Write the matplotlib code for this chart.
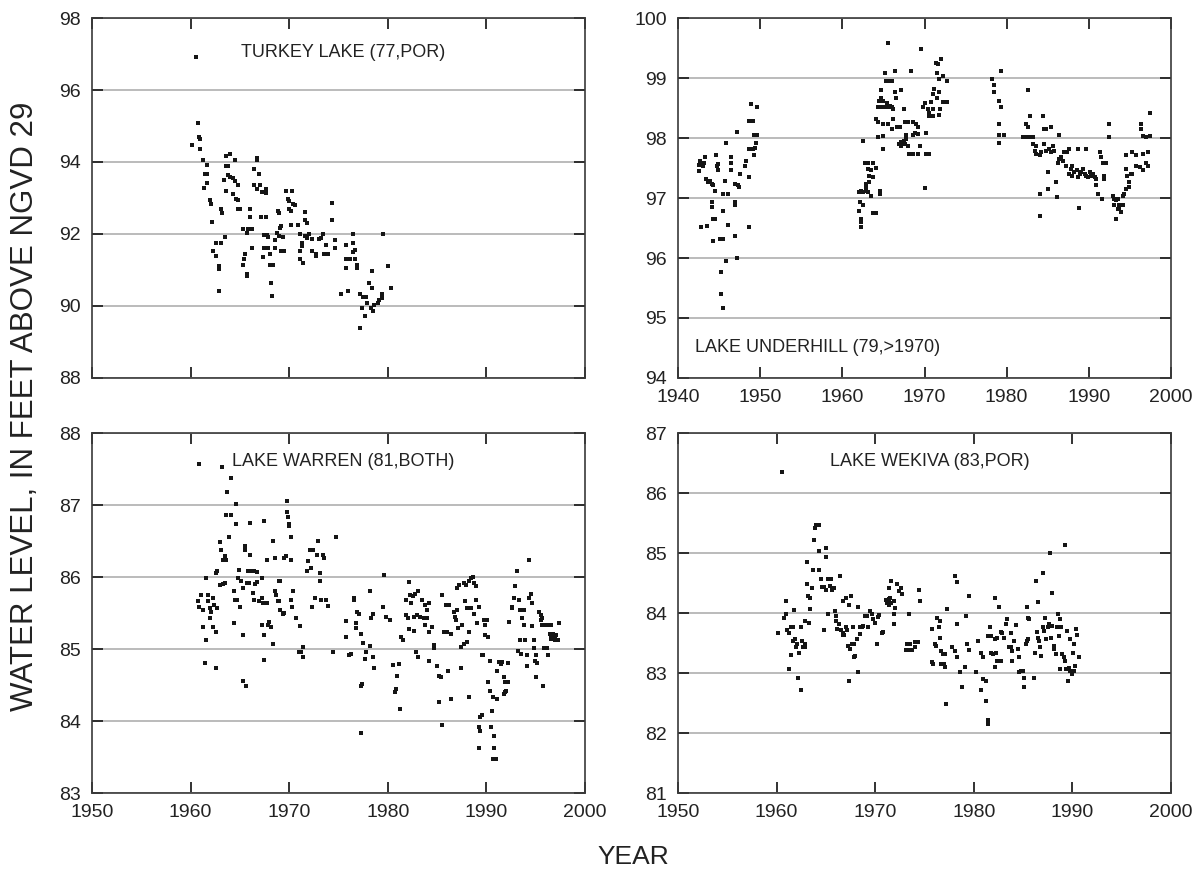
# lake levels, four panels of scattered readings
import matplotlib.pyplot as plt
import numpy as np

plt.rcParams['font.family'] = ['Liberation Sans', 'DejaVu Sans']

# Turkey Lake (77, POR)
###############################################
turkey_year = [1960.5, 1960.8, 1960.9, 1961.0, 1960.1, 1961.0, 1961.3, 1961.7, 1961.5, 1961.7,
               1961.7, 1961.4, 1962.0, 1962.1, 1962.2, 1962.3, 1962.6, 1962.6, 1963.1, 1962.9,
               1962.9, 1962.9, 1963.5, 1963.2, 1963.1, 1963.6, 1964.0, 1964.5, 1963.6, 1963.8,
               1963.8, 1964.0, 1964.3, 1964.5, 1963.4, 1963.6, 1964.3, 1964.6, 1964.8, 1964.8,
               1965.0, 1964.8, 1965.3, 1965.7, 1965.8, 1966.2, 1966.0, 1966.0, 1965.5, 1965.4,
               1965.3, 1965.7, 1965.7, 1966.2, 1966.4, 1966.7, 1966.7, 1966.9, 1966.4, 1966.7,
               1967.0, 1967.2, 1967.6, 1967.6, 1967.1, 1967.6, 1967.4, 1967.7, 1967.9, 1967.4,
               1967.8, 1967.3, 1968.1, 1968.1, 1968.4, 1968.2, 1968.3, 1968.6, 1968.6, 1968.8,
               1969.1, 1969.2, 1968.9, 1969.0, 1969.0, 1969.4, 1969.2, 1969.5, 1969.7, 1970.3,
               1969.9, 1970.0, 1970.4, 1970.6, 1970.0, 1970.2, 1970.2, 1970.9, 1971.1, 1971.6,
               1971.8, 1972.0, 1972.3, 1971.6, 1971.6, 1971.8, 1971.3, 1971.3, 1971.1, 1971.1,
               1971.4, 1972.3, 1972.7, 1972.7, 1973.0, 1973.2, 1973.4, 1973.5, 1973.9, 1973.7,
               1974.3, 1974.3, 1974.6, 1974.6, 1975.3, 1976.0, 1975.8, 1975.8, 1975.8, 1976.2,
               1976.5, 1976.5, 1976.7, 1976.7, 1976.9, 1976.9, 1976.5, 1977.2, 1977.5, 1977.8,
               1977.9, 1977.4, 1977.7, 1977.2, 1978.1, 1978.4, 1978.4, 1978.3, 1978.5, 1978.6,
               1979.0, 1979.1, 1979.4, 1979.4, 1979.5, 1980.0, 1980.3]
turkey_level = [96.92, 95.09, 94.70, 94.65, 94.46, 94.37, 94.06, 93.91, 93.68, 93.68,
                93.43, 93.29, 92.94, 92.83, 92.33, 91.53, 91.39, 91.76, 91.76, 91.11,
                91.04, 90.42, 91.91, 92.57, 92.70, 94.17, 94.23, 94.06, 93.89, 93.89,
                93.64, 93.59, 93.56, 93.47, 93.50, 93.19, 93.10, 92.96, 92.94, 92.70,
                92.69, 93.36, 92.15, 92.02, 92.13, 92.13, 92.70, 92.48, 91.45, 91.31,
                91.13, 90.88, 90.83, 91.62, 93.81, 94.10, 94.06, 93.68, 93.35, 93.24,
                93.35, 93.17, 93.24, 93.13, 92.48, 92.48, 91.97, 91.96, 91.93, 91.61,
                91.60, 91.37, 91.45, 91.13, 91.13, 90.65, 90.28, 91.82, 91.62, 92.04,
                92.17, 92.22, 92.63, 92.57, 91.94, 91.92, 91.53, 91.53, 93.19, 93.19,
                92.96, 92.92, 92.83, 92.80, 92.70, 92.63, 92.24, 92.24, 91.99, 91.94,
                91.89, 91.99, 91.85, 92.62, 92.39, 92.31, 91.74, 91.67, 91.53, 91.31,
                91.20, 91.53, 91.44, 91.39, 91.85, 91.89, 91.99, 91.45, 91.45, 91.69,
                92.87, 92.39, 91.82, 91.62, 90.34, 90.42, 91.69, 91.31, 91.06, 91.30,
                91.99, 91.76, 91.56, 91.30, 91.13, 91.06, 91.50, 90.34, 90.26, 90.26,
                90.09, 89.94, 89.71, 89.38, 90.65, 90.97, 90.49, 89.94, 89.86, 90.02,
                90.09, 90.16, 90.32, 90.23, 91.99, 91.11, 90.49]

# Lake Underhill (79, >1970)
###############################################
underhill_year = [1942.6, 1942.7, 1942.8, 1942.6, 1942.9, 1943.2, 1943.1, 1943.3, 1943.4, 1943.5,
                  1943.7, 1943.9, 1944.1, 1944.3, 1944.5, 1944.1, 1944.1, 1944.3, 1944.5, 1944.3,
                  1944.6, 1944.9, 1944.7, 1944.9, 1945.1, 1945.5, 1945.2, 1945.2, 1945.5, 1945.5,
                  1945.5, 1945.7, 1945.8, 1946.1, 1946.1, 1945.9, 1946.4, 1946.5, 1946.4, 1946.9,
                  1947.3, 1947.4, 1946.9, 1946.9, 1946.9, 1947.2, 1947.2, 1947.5, 1948.1, 1948.3,
                  1948.7, 1948.7, 1948.7, 1949.1, 1948.7, 1949.1, 1949.2, 1948.9, 1949.6, 1949.3,
                  1949.6, 1949.5, 1949.4,
                  1962.5, 1962.0, 1962.3, 1962.5, 1962.9, 1963.1, 1963.5, 1962.1, 1962.0, 1962.5,
                  1962.3, 1962.3, 1962.3, 1962.8, 1963.1, 1963.7, 1963.1, 1963.5, 1964.1, 1963.3,
                  1963.7, 1963.3, 1962.9, 1962.9, 1963.7, 1964.1, 1964.6, 1964.6, 1964.1, 1964.3,
                  1965.0, 1964.3, 1964.9, 1965.0, 1964.7, 1964.7, 1965.2, 1965.3, 1965.6, 1966.0,
                  1964.5, 1964.9, 1964.3, 1964.7, 1965.1, 1965.4, 1965.6, 1965.8, 1966.0, 1966.2,
                  1965.6, 1966.0, 1965.5, 1966.4, 1966.4, 1966.5, 1966.2, 1966.6, 1967.0, 1967.2,
                  1966.9, 1967.2, 1967.5, 1967.1, 1967.6, 1968.0, 1967.7, 1967.5, 1967.6, 1968.0,
                  1968.6, 1967.8, 1968.6, 1968.8, 1969.2, 1968.1, 1968.6, 1969.2, 1969.4, 1968.4,
                  1969.0, 1969.2, 1969.6, 1969.8, 1970.0, 1970.2, 1970.4, 1970.6, 1970.5, 1970.1,
                  1970.2, 1970.5, 1970.8, 1971.0, 1971.2, 1971.0, 1971.0, 1971.4, 1971.6, 1972.0,
                  1971.5, 1971.8, 1972.2, 1971.8, 1971.5, 1971.9, 1972.2, 1972.7, 1972.7, 1971.8,
                  1978.2, 1978.4, 1978.5, 1979.3, 1979.1, 1979.3, 1979.1, 1979.1, 1979.7, 1979.1,
                  1982.6, 1982.4, 1982.6, 1982.0, 1982.3, 1982.8, 1983.2, 1982.8, 1983.2, 1983.6,
                  1983.4, 1983.6, 1984.0, 1984.2, 1984.6, 1984.8, 1985.2, 1985.4, 1984.4, 1984.6,
                  1984.8, 1985.4, 1984.1, 1984.1, 1985.0, 1985.0, 1985.6, 1985.8, 1986.0, 1986.1,
                  1986.2, 1986.4, 1986.6, 1986.8, 1986.4, 1987.0, 1987.4, 1987.2, 1987.6, 1987.8,
                  1988.0, 1988.0, 1988.2, 1988.5, 1988.7, 1988.9, 1989.1, 1989.3, 1989.5, 1989.7,
                  1989.9, 1990.1, 1990.3, 1990.5, 1990.7, 1990.9, 1987.6, 1988.7, 1989.6, 1988.8,
                  1990.9, 1991.1, 1991.3, 1991.5, 1991.7, 1992.1, 1991.9, 1991.8, 1991.6, 1992.5,
                  1992.5, 1992.9, 1993.1, 1993.3, 1993.5, 1993.1, 1993.5, 1993.7, 1993.9, 1993.3,
                  1993.7, 1994.1, 1994.1, 1994.3, 1994.5, 1994.5, 1994.7, 1994.9, 1994.9, 1995.1,
                  1995.3, 1994.5, 1995.3, 1995.7, 1995.7, 1996.2, 1996.6, 1997.0, 1997.2, 1996.4,
                  1996.4, 1996.6, 1997.0, 1996.6, 1997.2, 1997.4, 1997.4]
underhill_level = [97.55, 97.62, 96.52, 97.45, 97.57, 97.58, 97.54, 97.68, 97.31, 96.54,
                   97.26, 97.29, 97.24, 97.21, 97.12, 96.93, 96.85, 96.65, 96.65, 96.28,
                   97.71, 97.57, 97.54, 97.46, 96.32, 96.32, 95.77, 95.40, 95.17, 96.79,
                   97.07, 97.29, 97.91, 97.07, 96.55, 95.95, 97.68, 97.59, 97.46, 97.24,
                   97.21, 97.18, 96.93, 96.88, 96.37, 96.00, 98.10, 97.40, 97.54, 97.62,
                   97.35, 96.52, 98.29, 98.29, 97.82, 97.82, 97.72, 98.56, 98.52, 98.05,
                   98.05, 97.91, 97.83,
                   97.95, 97.10, 97.12, 97.10, 97.12, 97.10, 97.03, 96.93, 96.79, 96.88,
                   96.65, 96.60, 96.52, 97.59, 97.59, 97.59, 97.48, 97.46, 97.50, 97.37,
                   97.35, 97.26, 97.24, 97.18, 96.75, 96.75, 97.12, 97.07, 98.31, 98.26,
                   98.23, 98.01, 98.04, 97.82, 98.80, 98.67, 99.09, 98.95, 98.95, 98.95,
                   98.62, 98.62, 98.52, 98.52, 98.52, 98.59, 98.51, 98.54, 98.51, 98.49,
                   98.23, 98.15, 99.59, 99.12, 98.76, 98.67, 98.31, 98.18, 98.18, 98.80,
                   97.90, 97.93, 97.95, 97.86, 97.90, 97.87, 97.98, 98.48, 98.26, 98.26,
                   98.26, 98.05, 98.05, 98.09, 98.07, 97.73, 97.73, 97.73, 97.87, 99.12,
                   98.23, 98.18, 99.49, 98.51, 98.59, 98.09, 98.48, 98.42, 98.37, 97.17,
                   97.73, 97.73, 98.60, 98.73, 98.81, 98.48, 98.37, 99.25, 99.23, 99.31,
                   99.09, 98.98, 99.03, 98.76, 98.67, 98.49, 98.60, 98.60, 98.95, 98.38,
                   98.98, 98.89, 98.76, 99.12, 98.62, 98.52, 98.23, 98.05, 98.05, 97.91,
                   98.80, 98.23, 98.18, 98.01, 98.01, 98.01, 98.01, 98.37, 97.90, 97.87,
                   97.79, 97.73, 97.71, 97.76, 97.90, 97.79, 97.82, 97.76, 98.37, 98.15,
                   98.15, 98.18, 97.07, 96.70, 97.43, 97.15, 97.87, 97.79, 97.26, 97.01,
                   97.59, 97.65, 97.68, 97.62, 98.05, 97.76, 97.76, 97.54, 97.40, 97.48,
                   97.54, 97.37, 97.43, 97.46, 97.35, 97.40, 97.43, 97.48, 97.40, 97.37,
                   97.35, 97.43, 97.37, 97.40, 97.35, 97.32, 97.82, 97.82, 97.82, 96.84,
                   97.21, 97.07, 97.76, 97.68, 97.59, 97.59, 97.37, 97.32, 96.98, 98.23,
                   98.01, 97.04, 96.99, 96.96, 96.99, 96.88, 96.82, 96.88, 96.76, 96.65,
                   96.82, 96.88, 97.04, 97.07, 97.15, 97.48, 97.37, 97.26, 97.18, 97.40,
                   97.40, 97.72, 97.76, 97.71, 97.54, 97.51, 97.46, 97.59, 97.54, 98.23,
                   98.15, 98.04, 98.01, 97.73, 97.76, 98.42, 98.04]

# Lake Warren (81, BOTH)
###############################################
warren_year = [1960.9, 1963.2, 1964.1, 1963.7, 1964.6, 1963.6, 1964.1, 1964.6, 1963.9, 1963.0,
               1963.1, 1963.5, 1963.6, 1963.3, 1962.6, 1962.7, 1961.6, 1960.7, 1960.9, 1961.1,
               1961.3, 1961.8, 1961.8, 1962.0, 1962.1, 1962.3, 1962.4, 1962.7, 1961.3, 1961.6,
               1962.3, 1962.6, 1962.0, 1961.5, 1962.6, 1963.0, 1963.3, 1963.5, 1964.4, 1964.5,
               1964.7, 1965.0, 1964.9, 1964.8, 1965.1, 1965.3, 1965.5, 1965.5, 1966.0, 1966.0,
               1965.8, 1966.2, 1966.4, 1966.7, 1965.7, 1965.9, 1966.5, 1966.7, 1967.2, 1966.3,
               1966.4, 1967.2, 1966.9, 1967.3, 1967.7, 1964.4, 1965.3, 1965.3, 1965.6, 1967.4,
               1967.7, 1968.4, 1968.6, 1967.2, 1967.4, 1967.8, 1968.0, 1968.2, 1967.4, 1968.4,
               1968.6, 1968.7, 1968.9, 1969.0, 1969.1, 1969.1, 1969.4, 1969.5, 1969.0, 1969.5,
               1969.7, 1969.8, 1969.8, 1969.9, 1970.0, 1970.0, 1970.2, 1970.2, 1970.2, 1970.4,
               1970.3, 1970.7, 1971.1, 1971.0, 1971.2, 1971.4, 1971.4, 1971.9, 1971.8, 1972.2,
               1972.1, 1972.4, 1972.9, 1972.8, 1973.4, 1973.5, 1972.3, 1972.6, 1973.2, 1973.7,
               1973.1, 1973.1, 1973.9, 1974.4, 1974.7, 1975.8, 1975.8, 1976.1, 1976.3, 1976.6,
               1976.6, 1976.8, 1976.8, 1976.9, 1977.1, 1977.3, 1977.4, 1977.3, 1977.3, 1977.5,
               1977.8, 1978.2, 1977.7, 1978.2, 1978.3, 1978.5, 1978.5, 1978.6, 1979.6, 1979.5,
               1979.8, 1980.2, 1980.5, 1981.1, 1980.9, 1980.8, 1980.7, 1981.2, 1981.3, 1981.5,
               1981.8, 1981.8, 1982.0, 1982.2, 1982.3, 1982.4, 1982.6, 1982.8, 1983.1, 1982.2,
               1982.7, 1982.7, 1983.0, 1983.3, 1983.7, 1983.8, 1984.0, 1983.5, 1983.8, 1984.0,
               1984.2, 1982.9, 1983.1, 1983.8, 1984.2, 1984.5, 1984.2, 1984.7, 1984.7, 1985.0,
               1985.2, 1985.4, 1985.2, 1985.5, 1985.5, 1985.9, 1986.2, 1985.7, 1986.0, 1986.4,
               1986.1, 1986.4, 1986.7, 1986.8, 1986.9, 1987.0, 1987.1, 1987.5, 1987.0, 1987.2,
               1987.4, 1987.7, 1988.0, 1987.4, 1987.7, 1987.9, 1988.2, 1988.4, 1988.6, 1988.7,
               1988.9, 1987.8, 1988.0, 1988.4, 1988.9, 1989.2, 1988.2, 1988.2, 1988.7, 1989.0,
               1989.8, 1989.9, 1990.1, 1989.9, 1990.2, 1989.6, 1989.7, 1990.4, 1990.2, 1990.4,
               1990.7, 1991.1, 1989.4, 1989.6, 1989.2, 1989.4, 1989.2, 1990.6, 1990.5, 1990.8,
               1990.8, 1990.7, 1991.0, 1991.3, 1991.6, 1991.1, 1991.5, 1991.8, 1991.9, 1992.2,
               1991.9, 1991.8, 1992.0, 1992.2, 1992.3, 1992.6, 1992.8, 1992.6, 1992.9, 1993.1,
               1993.3, 1993.4, 1993.6, 1993.8, 1993.8, 1993.2, 1993.5, 1993.4, 1993.9, 1994.1,
               1994.1, 1994.3, 1994.3, 1994.5, 1994.6, 1994.6, 1994.8, 1994.8, 1995.0, 1994.9,
               1995.1, 1995.0, 1995.7, 1995.3, 1995.5, 1995.6, 1995.8, 1996.0, 1996.3, 1996.6,
               1995.5, 1995.6, 1995.8, 1996.1, 1996.2, 1996.5, 1996.6, 1996.8, 1997.0, 1997.1,
               1997.3, 1997.0, 1997.4, 1996.6]
warren_level = [87.57, 87.53, 87.38, 87.18, 87.02, 86.86, 86.86, 86.74, 86.55, 86.48,
                86.38, 86.29, 86.23, 86.24, 86.06, 86.08, 85.99, 85.66, 85.59, 85.75,
                85.54, 85.75, 85.66, 85.57, 85.52, 85.71, 85.61, 85.57, 85.31, 85.12,
                85.31, 85.24, 85.43, 84.81, 84.73, 85.89, 85.90, 85.92, 85.80, 85.68,
                85.68, 85.59, 86.10, 85.99, 85.94, 85.85, 86.43, 86.38, 86.31, 86.75,
                86.08, 86.08, 86.08, 86.07, 85.92, 85.92, 85.90, 85.93, 85.99, 85.78,
                85.68, 85.71, 85.66, 85.64, 85.64, 85.36, 85.20, 84.56, 84.49, 86.78,
                86.23, 86.50, 86.27, 85.33, 85.20, 85.33, 85.38, 85.31, 84.85, 85.07,
                85.80, 85.75, 85.66, 85.94, 85.94, 85.54, 85.48, 85.50, 85.66, 86.27,
                86.29, 87.05, 86.90, 86.83, 86.74, 86.71, 86.55, 86.23, 85.68, 85.80,
                85.59, 85.43, 85.32, 84.96, 84.96, 85.03, 84.89, 86.22, 86.08, 86.12,
                86.38, 86.38, 86.50, 86.31, 86.31, 86.27, 85.59, 85.71, 85.68, 85.68,
                86.06, 85.95, 85.60, 84.96, 86.55, 85.39, 85.17, 84.91, 84.93, 85.68,
                85.71, 85.36, 85.29, 85.51, 85.48, 84.49, 84.51, 83.84, 85.21, 85.09,
                84.96, 85.04, 84.86, 85.80, 85.43, 85.48, 84.89, 84.73, 86.03, 85.59,
                85.45, 85.40, 84.78, 84.79, 84.62, 84.44, 84.40, 84.17, 85.17, 85.12,
                85.68, 85.47, 85.43, 85.93, 85.75, 85.64, 85.73, 85.76, 85.80, 85.28,
                85.25, 85.45, 85.47, 85.45, 85.43, 85.43, 85.43, 85.68, 85.61, 85.54,
                85.64, 84.96, 84.89, 85.33, 85.24, 85.31, 84.84, 85.05, 85.01, 84.77,
                84.63, 84.61, 84.26, 83.95, 85.75, 85.61, 85.61, 85.24, 85.24, 85.21,
                84.69, 84.30, 85.52, 85.45, 85.40, 85.54, 85.29, 85.33, 85.85, 85.89,
                85.03, 85.07, 85.10, 84.73, 85.92, 85.89, 85.94, 85.98, 86.00, 85.92,
                85.87, 85.66, 85.57, 85.57, 85.68, 85.59, 85.24, 84.34, 85.48, 85.36,
                85.40, 85.33, 85.40, 85.19, 85.17, 84.92, 84.91, 84.84, 84.54, 84.42,
                84.33, 84.30, 84.05, 84.09, 83.91, 83.86, 83.63, 84.14, 83.91, 83.79,
                83.63, 83.47, 83.47, 84.82, 84.82, 84.69, 84.79, 84.61, 84.54, 84.54,
                84.40, 84.37, 84.42, 84.81, 85.38, 85.59, 85.71, 85.57, 85.88, 86.08,
                85.68, 85.54, 85.43, 85.54, 85.33, 84.97, 84.93, 85.12, 85.12, 84.91,
                84.77, 86.23, 85.71, 85.76, 85.64, 85.32, 85.12, 85.01, 84.91, 84.83,
                84.81, 84.61, 84.49, 85.52, 85.40, 85.33, 85.33, 85.33, 85.33, 85.33,
                85.47, 85.43, 85.01, 85.01, 84.92, 85.21, 85.19, 85.21, 85.17, 85.19,
                85.12, 85.12, 85.36, 85.14]

# Lake Wekiva (83, POR)
###############################################
wekiva_year = [1960.5, 1960.1, 1960.8, 1961.0, 1961.0, 1961.1, 1961.3, 1961.5, 1961.7, 1961.3,
               1961.5, 1961.7, 1961.9, 1962.0, 1962.1, 1961.8, 1962.2, 1962.5, 1962.3, 1962.5,
               1962.6, 1962.7, 1962.9, 1962.9, 1962.9, 1963.3, 1963.1, 1963.1, 1963.2, 1963.4,
               1963.6, 1963.4, 1963.7, 1964.3, 1963.8, 1963.9, 1964.0, 1964.3, 1964.3, 1964.5,
               1964.6, 1964.8, 1965.0, 1965.2, 1965.5, 1965.6, 1965.8, 1965.4, 1965.0, 1965.0,
               1964.8, 1965.2, 1965.9, 1966.0, 1966.0, 1966.3, 1966.1, 1966.5, 1966.7, 1966.8,
               1967.0, 1967.1, 1966.7, 1966.4, 1966.7, 1967.0, 1967.5, 1967.3, 1967.2, 1967.4,
               1967.6, 1967.7, 1967.8, 1968.0, 1967.3, 1968.3, 1968.3, 1968.5, 1968.7, 1968.8,
               1969.0, 1969.2, 1969.3, 1969.5, 1969.7, 1969.8, 1970.0, 1970.3, 1970.4, 1970.7,
               1970.8, 1968.5, 1968.2, 1967.9, 1970.2, 1971.1, 1971.2, 1971.4, 1971.5, 1971.4,
               1971.6, 1971.4, 1971.6, 1971.9, 1972.2, 1972.4, 1972.6, 1972.7, 1972.0, 1971.9,
               1971.9, 1973.4, 1973.1, 1973.4, 1973.7, 1974.0, 1973.2, 1973.5, 1974.0, 1974.3,
               1974.4, 1974.5, 1975.8, 1975.8, 1975.9, 1976.1, 1976.2, 1976.3, 1976.5, 1976.6,
               1976.6, 1976.7, 1976.9, 1977.1, 1976.7, 1977.0, 1977.1, 1977.2, 1977.3, 1977.8,
               1978.1, 1978.3, 1978.1, 1978.3, 1978.3, 1978.6, 1978.8, 1979.1, 1979.2, 1979.3,
               1979.5, 1979.5, 1980.2, 1980.4, 1980.7, 1980.9, 1980.9, 1981.2, 1980.7, 1981.2,
               1981.4, 1981.4, 1981.4, 1981.6, 1981.7, 1981.7, 1981.9, 1982.1, 1982.1, 1982.3,
               1982.2, 1982.4, 1982.4, 1982.6, 1982.8, 1982.8, 1982.9, 1983.1, 1983.3, 1983.4,
               1983.6, 1983.8, 1983.9, 1983.9, 1983.8, 1984.1, 1984.3, 1984.5, 1984.6, 1984.6,
               1984.8, 1985.0, 1985.1, 1985.1, 1985.3, 1985.4, 1985.5, 1985.5, 1985.4, 1985.6,
               1986.1, 1986.2, 1986.3, 1986.4, 1986.5, 1986.5, 1986.6, 1986.7, 1986.8, 1987.0,
               1987.0, 1987.1, 1987.2, 1987.3, 1987.5, 1987.6, 1987.7, 1987.8, 1987.9, 1987.9,
               1988.1, 1988.1, 1988.3, 1988.4, 1988.5, 1988.6, 1988.7, 1988.7, 1988.8, 1988.9,
               1989.1, 1989.2, 1989.2, 1989.4, 1989.5, 1989.6, 1989.7, 1989.8, 1989.8, 1990.0,
               1990.1, 1990.2, 1990.2, 1990.3, 1990.4, 1990.5, 1990.7]
wekiva_level = [86.35, 83.66, 83.91, 84.20, 83.99, 83.72, 83.67, 83.77, 83.77, 83.06,
                83.30, 83.54, 83.57, 83.44, 83.49, 84.05, 82.91, 82.72, 83.34, 83.77,
                83.54, 83.44, 83.44, 83.48, 83.87, 83.83, 84.85, 84.48, 84.28, 84.25,
                84.42, 84.06, 84.71, 84.71, 85.22, 85.41, 85.46, 85.47, 85.04, 84.57,
                84.43, 84.43, 84.38, 84.56, 84.56, 84.39, 84.42, 84.45, 85.08, 84.94,
                83.72, 83.99, 84.03, 83.95, 83.87, 83.81, 83.73, 83.72, 83.67, 83.64,
                83.76, 83.71, 83.64, 84.61, 84.20, 84.25, 84.29, 84.14, 83.45, 83.40,
                83.48, 83.76, 83.26, 83.29, 82.87, 84.10, 83.01, 83.77, 83.77, 83.78,
                83.95, 83.95, 83.76, 84.03, 83.98, 83.90, 83.84, 83.93, 83.97, 83.67,
                83.69, 83.65, 83.56, 83.49, 83.48, 84.21, 84.17, 84.23, 84.25, 84.14,
                84.17, 84.42, 84.53, 84.20, 84.48, 84.36, 84.42, 84.31, 84.09, 83.99,
                83.81, 83.99, 83.39, 83.39, 83.39, 83.43, 83.48, 83.48, 83.52, 83.52,
                84.38, 84.20, 83.73, 83.18, 83.15, 83.48, 83.45, 83.92, 83.77, 83.59,
                83.87, 83.37, 83.31, 83.31, 83.15, 83.15, 83.10, 82.49, 84.06, 83.43,
                83.37, 83.26, 84.61, 84.52, 83.81, 83.01, 82.76, 83.10, 83.95, 83.48,
                83.38, 84.28, 83.01, 83.54, 83.34, 83.26, 82.90, 82.86, 82.72, 82.54,
                82.21, 82.15, 83.62, 83.77, 83.62, 83.34, 83.31, 84.25, 83.10, 83.34,
                83.56, 83.59, 83.20, 84.10, 83.20, 83.69, 83.66, 83.59, 83.81, 83.90,
                83.44, 83.43, 83.20, 83.37, 83.67, 83.54, 83.80, 83.40, 83.26, 83.01,
                83.04, 83.04, 82.76, 82.92, 83.48, 83.54, 83.56, 83.92, 84.10, 83.90,
                82.92, 83.33, 84.53, 83.69, 84.19, 83.59, 83.54, 83.44, 83.29, 84.67,
                83.76, 83.70, 83.92, 83.56, 83.76, 83.81, 85.00, 83.59, 83.78, 84.34,
                83.45, 83.40, 83.31, 83.77, 83.98, 83.62, 83.90, 83.07, 83.76, 83.31,
                83.27, 85.14, 83.20, 83.07, 83.70, 82.87, 83.08, 83.56, 83.04, 82.98,
                83.34, 83.48, 83.04, 83.12, 83.73, 83.64, 83.26]

# panel settings: name, x limits, y limits, y ticks, label position
titles = ['TURKEY LAKE (77,POR)', 'LAKE UNDERHILL (79,>1970)',
          'LAKE WARREN (81,BOTH)', 'LAKE WEKIVA (83,POR)']
xlims = [(1950, 2000), (1940, 2000), (1950, 2000), (1950, 2000)]
ylims = [(88, 98), (94, 100), (83, 88), (81, 87)]
ysteps = [2, 1, 1, 1]


# Style one panel
###############################################
def style_axes(ax, xlim, ylim, ystep, show_xlabels):
    ax.set_xlim(xlim)
    ax.set_ylim(ylim)
    ax.set_xticks(np.arange(xlim[0], xlim[1] + 1, 10))
    ax.set_yticks(np.arange(ylim[0], ylim[1] + 0.5, ystep))
    ax.tick_params(direction='in', top=True, right=True, length=8, width=1.3,
                   color='#222222', labelsize=14, labelcolor='#222222')
    ax.tick_params(axis='y', pad=8)
    ax.tick_params(axis='x', pad=8)
    if not show_xlabels:
        ax.tick_params(axis='x', labelbottom=False)
    ax.yaxis.grid(True, color='#b5b5b5', lw=1.3)
    ax.set_axisbelow(True)
    for sp in ax.spines.values():
        sp.set_color('#3a3a3a')
        sp.set_linewidth(1.2)


# Main
###############################################
fig = plt.figure(figsize=(11.94, 8.69), dpi=100)

w = 493 / 1194
h = 360 / 869
positions = [[92 / 1194, 1 - 378 / 869, w, h],
             [678 / 1194, 1 - 378 / 869, w, h],
             [92 / 1194, 1 - 793 / 869, w, h],
             [678 / 1194, 1 - 793 / 869, w, h]]

years = [turkey_year, underhill_year, warren_year, wekiva_year]
levels = [turkey_level, underhill_level, warren_level, wekiva_level]

for i in range(4):
    ax = fig.add_axes(positions[i])
    style_axes(ax, xlims[i], ylims[i], ysteps[i], i != 0)
    ax.plot(years[i], levels[i], ls='none', marker='s', ms=2.4, mew=0,
            color='#151515')

    if i == 1:
        ax.text(0.035, 0.084, titles[i], transform=ax.transAxes, fontsize=13,
                ha='left', va='center', color='#222222')
    elif i == 0:
        ax.text(0.51, 0.905, titles[i], transform=ax.transAxes, fontsize=13,
                ha='center', va='center', color='#222222')
    else:
        ax.text(0.51, 0.92, titles[i], transform=ax.transAxes, fontsize=13,
                ha='center', va='center', color='#222222')

fig.text(25 / 1194, 1 - 406 / 869, 'WATER LEVEL, IN FEET ABOVE NGVD 29',
         rotation=90, ha='center', va='center', fontsize=22.5, color='#222222')
fig.text(633 / 1194, 1 - 857 / 869, 'YEAR', ha='center', va='center',
         fontsize=19, color='#222222')

fig.savefig('out.png', dpi=100)
